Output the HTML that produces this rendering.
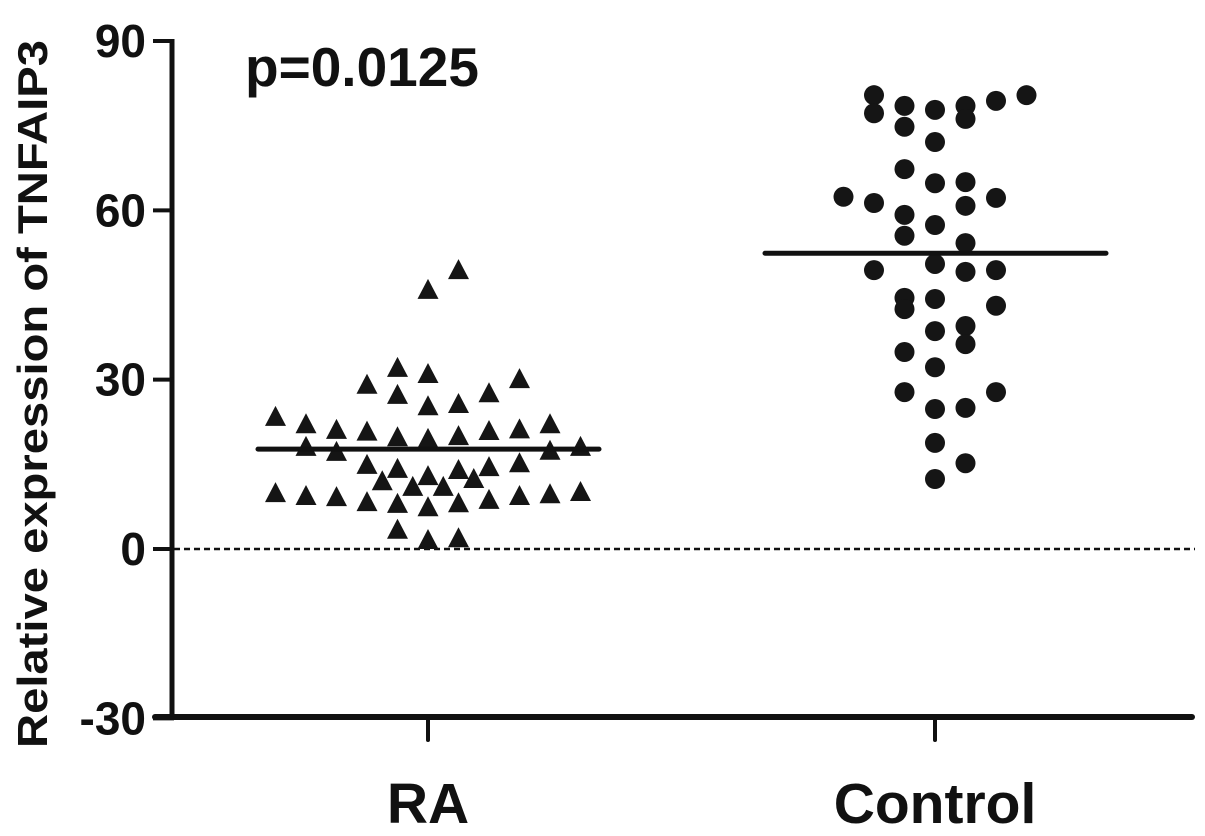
<!DOCTYPE html>
<html><head><meta charset="utf-8"><style>
html,body{margin:0;padding:0;background:#fff;}
svg{display:block;font-family:"Liberation Sans",Arial,sans-serif;font-weight:bold;}
</style></head><body>
<svg id="chart" width="1205" height="836" viewBox="0 0 1205 836">
<g id="axes"></g>
<g id="marks"></g>
</svg>
<script>
const categories = ["RA", "Control"];
const yTicks = [90, 60, 30, 0, -30];
const raOffsets = [2,0,-2,0,-4,6,-2,0,2,4,-10,-8,-6,-4,-2,0,2,4,6,8,-8,-6,8,10,-4,-2,0,2,4,6,-3,-1,1,3,-10,-8,-6,-4,-2,0,2,4,6,8,10,-2,0,2];
const raValues = [49.4,45.9,32.1,31.0,29.1,30.1,27.3,25.3,25.7,27.6,23.4,22.1,21.1,20.8,19.8,19.5,20.0,20.9,21.2,22.1,18.1,17.2,17.4,18.1,14.9,14.2,12.9,14.0,14.5,15.2,12.0,11.0,11.0,12.4,9.9,9.4,9.2,8.3,8.0,7.4,8.1,8.7,9.4,9.7,10.1,3.4,1.6,1.9];
const ctrlOffsets = [-2,-2,-1,-1,0,1,1,2,3,0,-1,0,1,-3,-2,2,1,-1,0,-1,1,0,-2,1,2,-1,-1,0,2,0,1,1,-1,0,-1,2,0,1,0,1,0];
const ctrlValues = [80.4,77.2,78.5,74.8,77.8,78.5,76.2,79.4,80.4,72.1,67.3,64.8,65.0,62.4,61.3,62.2,60.8,59.2,57.4,55.5,54.2,50.5,49.4,49.1,49.4,44.5,42.5,44.3,43.1,38.6,39.5,36.3,34.9,32.2,27.8,27.8,24.8,25.0,18.8,15.2,12.4];
const groupMeans = [17.7, 52.4];
const pText = "p=0.0125";

const NS = "http://www.w3.org/2000/svg";
const yScale = v => 549 - (v) * (549 - 41) / 90;
const catX = i => [428, 935][i];
const axes = document.getElementById('axes');
const marks = document.getElementById('marks');
function mk(tag, attrs, parent){const e=document.createElementNS(NS,tag);for(const k in attrs)e.setAttribute(k,attrs[k]);parent.appendChild(e);return e;}

// y axis
let e = mk('line',{x1:172,y1:39,x2:172,y2:719,stroke:'#111','stroke-width':5},axes);


e = mk('line',{x1:155,y1:717,x2:1192,y2:717,stroke:'#111','stroke-width':6,'stroke-linecap':'round'},axes);


yTicks.forEach(t=>{
  const y=yScale(t);
  const l=mk('line',{x1:153,y1:y,x2:174,y2:y,stroke:'#111','stroke-width':4},axes);
  
  
  const tx=mk('text',{x:146,y:y+16,'text-anchor':'end','font-size':46,fill:'#111'},axes);
  tx.textContent=String(t);
  
  
});
categories.forEach((c,i)=>{
  const x=catX(i);
  const l=mk('line',{x1:x,y1:719,x2:x,y2:740,stroke:'#111','stroke-width':4,'stroke-linecap':'round'},axes);
  
  
  const tx=mk('text',{x:x,y:823,'text-anchor':'middle','font-size':57,fill:'#111'},axes);
  tx.textContent=c;
  
  
});
// zero dashed line
e = mk('line',{x1:174,y1:yScale(0),x2:1195,y2:yScale(0),stroke:'#111','stroke-width':2.5,'stroke-dasharray':'6,4'},axes);


// y title
e = mk('text',{x:0,y:0,transform:'translate(47,748) rotate(-90)','font-size':42,fill:'#111',textLength:708,lengthAdjust:'spacingAndGlyphs'},axes);
e.textContent='Relative expression of TNFAIP3';


e = mk('text',{x:245,y:86,'font-size':55,fill:'#111'},axes);
e.textContent=pText;



// RA triangles
raValues.forEach((v,i)=>{
  const x=catX(0)+raOffsets[i]*15.25, y=yScale(v);
  const p=mk('polygon',{points:`${x},${y-11} ${x-10.5},${y+9} ${x+10.5},${y+9}`,fill:'#151515'},marks);
  
  
});
// Control circles
ctrlValues.forEach((v,i)=>{
  const x=catX(1)+ctrlOffsets[i]*30.5, y=yScale(v);
  const c=mk('circle',{cx:x,cy:y,r:10,fill:'#151515'},marks);
  
  
});
// mean lines
groupMeans.forEach((m,i)=>{
  const x=catX(i), y=yScale(m);
  const l=mk('line',{x1:x-170,y1:y,x2:x+171,y2:y,stroke:'#111','stroke-width':5,'stroke-linecap':'round'},marks);
  
  
});
</script>
</body></html>
